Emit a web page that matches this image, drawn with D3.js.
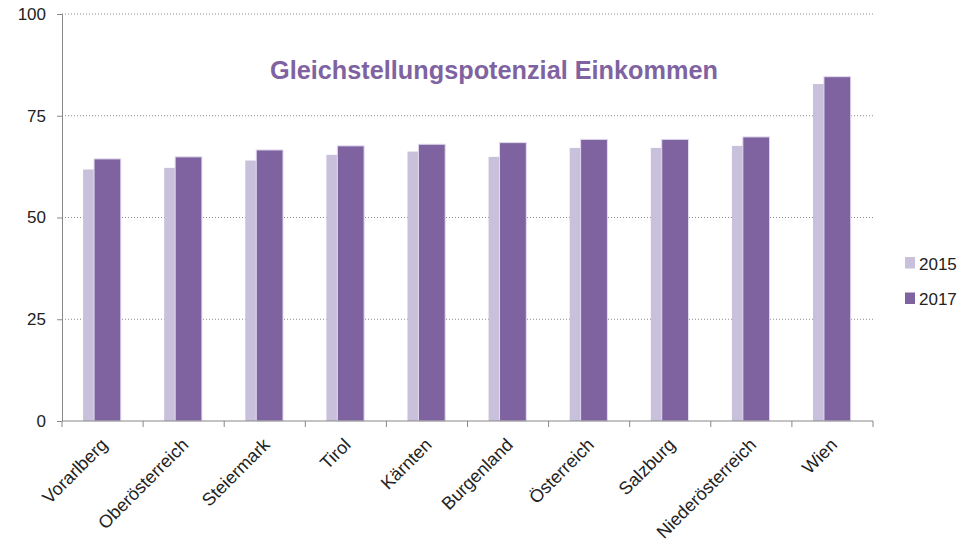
<!DOCTYPE html>
<html>
<head>
<meta charset="utf-8">
<script src="https://cdn.jsdelivr.net/npm/d3@7"></script>
<style>
  html, body { margin:0; padding:0; background:#fff; overflow:hidden; }
  svg { display:block; }
  text { font-family: "Liberation Sans", Arial, sans-serif; }
</style>
</head>
<body>
<div id="chart"></div>
<script>
// data
let regions = ['Vorarlberg','Oberösterreich','Steiermark','Tirol','Kärnten','Burgenland','Österreich','Salzburg','Niederösterreich','Wien']
let v2015 = [61.8, 62.2, 64.0, 65.4, 66.2, 64.9, 67.1, 67.1, 67.6, 82.8]
let v2017 = [64.4, 64.9, 66.6, 67.6, 68.0, 68.4, 69.2, 69.2, 69.8, 84.6]
let seriesNames = ['2015','2017']
let yTicks = [0, 25, 50, 75, 100]
let colors = ['#c9c0db','#7f63a1']

let width = 975, height = 559,
    margin = { top:14, left:62, right:102, bottom:138 },
    innerWidth = width - margin.left - margin.right,
    innerHeight = height - margin.top - margin.bottom

let svg = d3.select("#chart").append("svg")
  .attr("width", width)
  .attr("height", height)
let g = svg.append("g").attr("transform", `translate(${margin.left},${margin.top})`)

let xScale = d3.scaleBand().domain(regions).range([0, innerWidth]).padding(0)
let yScale = d3.scaleLinear().domain([0, 100]).range([innerHeight, 0])

let bw = xScale.bandwidth()
let barW = bw * 0.33
// 2017 bars overlap the 2015 bars
let offset = d3.scaleOrdinal().domain(seriesNames).range([bw * 0.26, bw * 0.395])

// dotted grid
g.selectAll(".grid").data(yTicks.filter(d => d > 0)).enter().append("line")
  .attr("x1", 0).attr("x2", innerWidth)
  .attr("y1", d => yScale(d)).attr("y2", d => yScale(d))
  .attr("stroke", "#8a8a8a")
  .attr("stroke-width", 1)
  .attr("stroke-dasharray", "1,2")

let rows = regions.map((r, i) => ({ region: r, values: [v2015[i], v2017[i]] }))

seriesNames.forEach(function(s, si) {
  g.selectAll(".bar" + s).data(rows).enter().append("rect")
    .attr("x", d => xScale(d.region) + offset(s))
    .attr("y", d => yScale(d.values[si]))
    .attr("width", barW)
    .attr("height", d => innerHeight - yScale(d.values[si]))
    .attr("fill", colors[si])
    .attr("stroke", si == 1 ? "#e2dbee" : "none")
    .attr("stroke-width", 1)
})

// y axis
let yAxis = d3.axisLeft(yScale).tickValues(yTicks).tickSize(5).tickPadding(11)
let yGroup = g.append("g").call(yAxis)
yGroup.selectAll("line, path").attr("stroke", "#878787")
yGroup.select(".domain").attr("d", `M-5,0.5H0.5V${innerHeight}`)
yGroup.selectAll("text").attr("font-size", 17).attr("fill", "#222")
  .style("font-family", "'Liberation Sans', Arial, sans-serif")

// x axis with ticks at category boundaries
let xGroup = g.append("g").attr("transform", `translate(0,${innerHeight})`)
xGroup.append("line").attr("x1", 0).attr("x2", innerWidth).attr("y1", 0).attr("y2", 0)
  .attr("stroke", "#878787")
let bounds = regions.map(r => xScale(r)).concat([innerWidth])
xGroup.selectAll(".tk").data(bounds).enter().append("line")
  .attr("x1", d => d).attr("x2", d => d).attr("y1", 0).attr("y2", 6)
  .attr("stroke", "#878787")
xGroup.selectAll(".lbl").data(regions).enter().append("text")
  .attr("transform", d => `translate(${xScale(d) + bw / 2 + 6},${25}) rotate(-45)`)
  .attr("text-anchor", "end")
  .attr("font-size", 18)
  .attr("fill", "#222")
  .text(d => d)

// title
svg.append("text")
  .attr("x", 494).attr("y", 79)
  .attr("text-anchor", "middle")
  .attr("font-size", 26)
  .attr("font-weight", "bold")
  .attr("fill", "#7f63a1")
  .attr("textLength", 448)
  .attr("lengthAdjust", "spacingAndGlyphs")
  .text("Gleichstellungspotenzial Einkommen")

// legend
let legend = svg.append("g").attr("transform", "translate(905,257)")
let items = legend.selectAll("g").data(seriesNames).enter().append("g")
  .attr("transform", (d, i) => `translate(0,${i * 35.5})`)
items.append("rect").attr("width", 10).attr("height", 11.5)
  .attr("fill", (d, i) => colors[i])
items.append("text").attr("x", 14).attr("y", 12.5)
  .attr("font-size", 17).attr("fill", "#222")
  .text(d => d)
</script>
</body>
</html>
